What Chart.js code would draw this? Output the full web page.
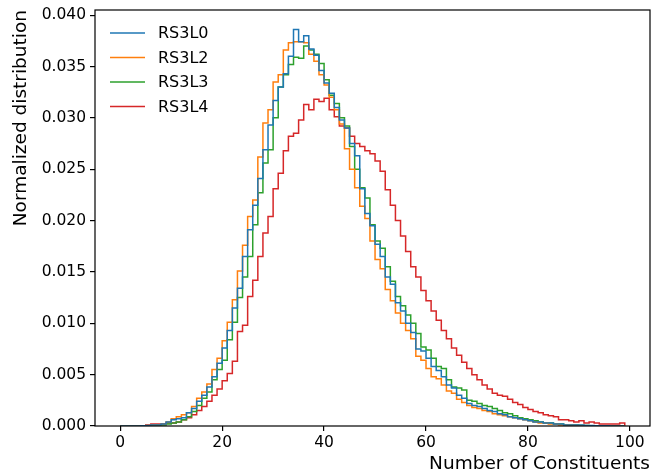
<!DOCTYPE html>
<html>
<head>
<meta charset="utf-8">
<script src="https://cdn.jsdelivr.net/npm/chart.js@4/dist/chart.umd.min.js"></script>
<style>
  body { margin: 0; background: #fff; }
  #wrap { width: 665px; height: 475px; }
</style>
</head>
<body>
<div id="wrap"><canvas id="hist_chart" width="665" height="475"></canvas></div>
<script>
'use strict';

// bin edges 0..99, one bin per constituent count
const binEdges = Array.from({ length: 100 }, (_, i) => i);

const labels = ['RS3L0', 'RS3L2', 'RS3L3', 'RS3L4'];
const colors = ['#1f77b4', '#ff7f0e', '#2ca02c', '#d62728'];

const rs3l0 = [
    0, 0, 0, 0, 0.00002, 0.00005, 0.0001, 0.0001, 0.0002, 0.0004,
    0.0006, 0.0007, 0.0008, 0.0013, 0.0017, 0.0024, 0.0030, 0.0038, 0.0048, 0.0061,
    0.0076, 0.0093, 0.0115, 0.0134, 0.0165, 0.0191, 0.0215, 0.0241, 0.0269, 0.0293,
    0.0317, 0.0330, 0.0343, 0.0360, 0.0386, 0.0374, 0.0380, 0.0367, 0.0361, 0.0346,
    0.0334, 0.0324, 0.0310, 0.0298, 0.0290, 0.0275, 0.0263, 0.0231, 0.0207, 0.0195,
    0.0177, 0.0165, 0.0145, 0.0138, 0.0120, 0.0112, 0.0100, 0.0091, 0.0075, 0.0073,
    0.0066, 0.0058, 0.0054, 0.0048, 0.0040, 0.0037, 0.0030, 0.0027, 0.0022, 0.0020,
    0.0019, 0.0017, 0.0015, 0.0014, 0.0012, 0.0011, 0.0009, 0.0008, 0.0007, 0.0006,
    0.0005, 0.0004, 0.0004, 0.0003, 0.0003, 0.0002, 0.0002, 0.0001, 0.0001, 0.0001,
    0.0001, 0.00005, 0.00005, 0.00003, 0.00002, 0.00002, 0.00001, 0, 0
];
const rs3l2 = [
    0, 0, 0, 0, 0.00002, 0.00005, 0.0001, 0.0001, 0.0002, 0.0004,
    0.0007, 0.0009, 0.0011, 0.0013, 0.0019, 0.0027, 0.0033, 0.0041, 0.0055, 0.0066,
    0.0083, 0.0101, 0.0123, 0.0151, 0.0176, 0.0204, 0.0220, 0.0262, 0.0295, 0.0308,
    0.0335, 0.0342, 0.0366, 0.0373, 0.0374, 0.0374, 0.0373, 0.0362, 0.0355, 0.0342,
    0.0332, 0.0320, 0.0308, 0.0294, 0.0270, 0.0250, 0.0232, 0.0214, 0.0202, 0.0180,
    0.0162, 0.0153, 0.0133, 0.0122, 0.0110, 0.0100, 0.0093, 0.0085, 0.0068, 0.0064,
    0.0056, 0.0048, 0.0046, 0.0040, 0.0034, 0.0032, 0.0026, 0.0023, 0.0020, 0.0018,
    0.0017, 0.0015, 0.0014, 0.0012, 0.0011, 0.0010, 0.0009, 0.0008, 0.0007, 0.0006,
    0.0005, 0.0004, 0.0003, 0.0003, 0.0002, 0.0002, 0.0001, 0.0001, 0.0001, 0.00005,
    0.00005, 0.00003, 0.00003, 0.00002, 0.00001, 0.00001, 0, 0, 0
];
const rs3l3 = [
    0, 0, 0, 0, 0, 0.00002, 0.00005, 0.0001, 0.0001, 0.0002,
    0.0003, 0.0004, 0.0006, 0.0009, 0.0014, 0.0020, 0.0027, 0.0033, 0.0045, 0.0055,
    0.0064, 0.0084, 0.0101, 0.0125, 0.0145, 0.0165, 0.0196, 0.0227, 0.0256, 0.0269,
    0.0300, 0.0330, 0.0342, 0.0352, 0.0359, 0.0358, 0.0370, 0.0366, 0.0362, 0.0353,
    0.0337, 0.0322, 0.0314, 0.0300, 0.0292, 0.0272, 0.0250, 0.0232, 0.0222, 0.0196,
    0.0180, 0.0173, 0.0155, 0.0141, 0.0126, 0.0117, 0.0108, 0.0100, 0.0090, 0.0077,
    0.0074, 0.0066, 0.0058, 0.0056, 0.0045, 0.0038, 0.0037, 0.0035, 0.0025, 0.0024,
    0.0022, 0.0020, 0.0019, 0.0017, 0.0015, 0.0013, 0.0012, 0.0010, 0.0008, 0.0007,
    0.0006, 0.0005, 0.0004, 0.0003, 0.0003, 0.0002, 0.0002, 0.0001, 0.0001, 0.0001,
    0.00005, 0.00005, 0.00003, 0.00003, 0.00002, 0.00001, 0.00001, 0, 0
];
const rs3l4 = [
    0, 0, 0, 0, 0, 0.0001, 0.0002, 0.0002, 0.0002, 0.0003,
    0.0003, 0.0004, 0.0006, 0.0008, 0.0011, 0.0015, 0.0019, 0.0024, 0.0030, 0.0036,
    0.0044, 0.0051, 0.0063, 0.0092, 0.0098, 0.0126, 0.0142, 0.0165, 0.0188, 0.0204,
    0.0231, 0.0246, 0.0268, 0.0282, 0.0285, 0.0298, 0.0313, 0.0308, 0.0318, 0.0316,
    0.0319, 0.0308, 0.0301, 0.0292, 0.0290, 0.0282, 0.0275, 0.0272, 0.0268, 0.0265,
    0.0258, 0.0248, 0.0230, 0.0215, 0.0200, 0.0185, 0.0170, 0.0155, 0.0145, 0.0132,
    0.0122, 0.0112, 0.0103, 0.0093, 0.0085, 0.0076, 0.0069, 0.0062, 0.0056, 0.0050,
    0.0045, 0.0040, 0.0036, 0.0032, 0.0030, 0.0029, 0.0026, 0.0023, 0.0021, 0.0018,
    0.0016, 0.0014, 0.0013, 0.0011, 0.0010, 0.0009, 0.0006, 0.0006, 0.0005, 0.0004,
    0.0005, 0.0003, 0.0004, 0.0003, 0.0002, 0.0002, 0.0002, 0.0002, 0.0003
];

const xTicks = [0, 20, 40, 60, 80, 100];
const yTicks = [0, 0.005, 0.01, 0.015, 0.02, 0.025, 0.03, 0.035, 0.04];

// outline of a step histogram: up at first edge, down at last edge
function stepPoints(values) {
    const pts = [{ x: binEdges[0], y: 0 }];
    values.forEach((v, i) => pts.push({ x: binEdges[i], y: v }));
    pts.push({ x: binEdges[values.length], y: 0 });
    return pts;
}

const series = [rs3l0, rs3l2, rs3l3, rs3l4];
const datasets = series.map((vals, i) => ({
    label: labels[i],
    data: stepPoints(vals),
    borderColor: colors[i],
    backgroundColor: colors[i],
    borderWidth: 1.5,
    pointRadius: 0,
    stepped: 'before',
    fill: false,
}));

const FONT = 'DejaVu Sans';

const frameAndLegend = {
    id: 'frameAndLegend',
    afterDatasetsDraw(chart) {
        const { ctx, chartArea: a } = chart;
        ctx.save();
        ctx.strokeStyle = '#000';
        ctx.lineWidth = 1.2;
        ctx.strokeRect(a.left, a.top, a.right - a.left, a.bottom - a.top);

        ctx.font = '16px "' + FONT + '"';
        ctx.textBaseline = 'middle';
        ctx.textAlign = 'left';
        chart.data.datasets.forEach((ds, i) => {
            const y = a.top + 23 + i * 24.5;
            ctx.strokeStyle = ds.borderColor;
            ctx.lineWidth = ds.borderWidth;
            ctx.beginPath();
            ctx.moveTo(a.left + 15, y);
            ctx.lineTo(a.left + 50, y);
            ctx.stroke();
            ctx.fillStyle = '#000';
            ctx.fillText(ds.label, a.left + 63, y + 1);
        });
        ctx.restore();
    }
};

function zeroPadding(scale) {
    scale.paddingTop = 0;
    scale.paddingBottom = 0;
    scale.paddingLeft = 0;
    scale.paddingRight = 0;
}

let histChart = new Chart(document.querySelector('#hist_chart'), {
    type: 'line',
    data: { datasets: datasets },
    options: {
        responsive: false,
        animation: false,
        devicePixelRatio: 1,
        layout: { padding: { left: 0, top: 10, right: 15, bottom: 0 } },
        plugins: {
            legend: { display: false },
            tooltip: { enabled: false },
        },
        scales: {
            x: {
                type: 'linear',
                min: -4.95,
                max: 103.95,
                border: { display: false },
                grid: {
                    drawOnChartArea: false,
                    drawTicks: true,
                    tickLength: 5,
                    tickColor: '#000',
                    lineWidth: 1.2,
                },
                afterBuildTicks: (scale) => { scale.ticks = xTicks.map(v => ({ value: v })); },
                ticks: {
                    color: '#000',
                    padding: 3,
                    maxRotation: 0,
                    font: { family: FONT, size: 15.5 },
                    callback: (v) => String(v),
                },
                title: {
                    display: true,
                    text: 'Number of Constituents',
                    align: 'end',
                    color: '#000',
                    padding: { top: 0, bottom: 0 },
                    font: { family: FONT, size: 18.5 },
                },
                afterFit: (scale) => { scale.height = 49; zeroPadding(scale); },
            },
            y: {
                type: 'linear',
                min: 0,
                max: 0.0405,
                border: { display: false },
                grid: {
                    drawOnChartArea: false,
                    drawTicks: true,
                    tickLength: 5,
                    tickColor: '#000',
                    lineWidth: 1.2,
                },
                afterBuildTicks: (scale) => { scale.ticks = yTicks.map(v => ({ value: v })); },
                ticks: {
                    color: '#000',
                    padding: 4,
                    font: { family: FONT, size: 15.5 },
                    callback: (v) => Number(v).toFixed(3),
                },
                title: {
                    display: true,
                    text: 'Normalized distribution',
                    align: 'end',
                    color: '#000',
                    padding: { top: 10, bottom: 0 },
                    font: { family: FONT, size: 18.5 },
                },
                afterFit: (scale) => { scale.width = 95; zeroPadding(scale); },
            },
        },
    },
    plugins: [frameAndLegend],
});
</script>
</body>
</html>
